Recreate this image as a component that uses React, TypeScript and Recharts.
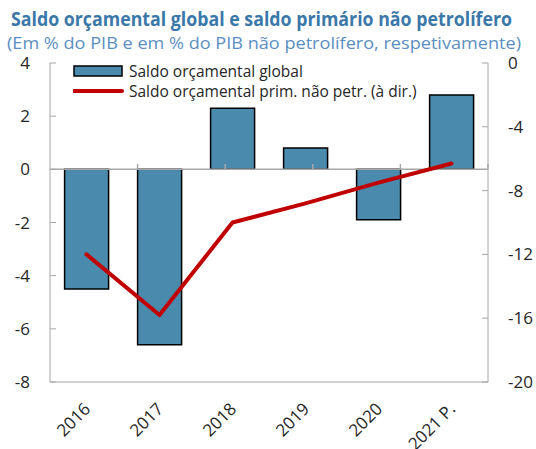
import React from 'react'
import { ComposedChart, Bar, Line, XAxis, YAxis, ReferenceLine, ReferenceArea, Legend } from 'recharts'

const years = ['2016', '2017', '2018', '2019', '2020', '2021 P.']
const saldoGlobal = [-4.5, -6.6, 2.3, 0.8, -1.9, 2.8]
const saldoPrimario = [-12.0, -15.8, -10.0, -8.8, -7.5, -6.3]
const leftTicks = [-8, -6, -4, -2, 0, 2, 4]
const rightTicks = [-20, -16, -12, -8, -4, 0]

const data = years.map((year, i) => ({ year, global: saldoGlobal[i], primario: saldoPrimario[i] }))
const boundaries = years.slice(1).map((_, i) => i + 1)

const FONT = '"Open Sans", "Noto Sans", sans-serif'
const GREY = '#a6a6a6'
const BAR = '#4a8aad'
const RED = '#c00000'

function YearTick(props: any) {
  const { x, y, payload } = props
  return (
    <g transform={`translate(${x + 5},${y})`}>
      <text textAnchor='end' transform='rotate(-45)' fontSize={17} fill='#262626' fontFamily={FONT}>
        {payload.value}
      </text>
    </g>
  )
}

function renderLegend() {
  const row: React.CSSProperties = { display: 'flex', alignItems: 'center', height: 20, whiteSpace: 'nowrap' }
  return (
    <div style={{ fontFamily: FONT, fontSize: 15.5, color: '#262626', textAlign: 'left' }}>
      <div style={row}>
        <svg width={52} height={12} style={{ marginRight: 4 }}>
          <rect x={1} y={1} width={48} height={10} fill={BAR} stroke='#000' strokeWidth={1.5} />
        </svg>
        Saldo orçamental global
      </div>
      <div style={row}>
        <svg width={52} height={12} style={{ marginRight: 4 }}>
          <line x1={1} y1={6} x2={49} y2={6} stroke={RED} strokeWidth={4} strokeLinecap='round' />
        </svg>
        Saldo orçamental prim. não petr. (à dir.)
      </div>
    </div>
  )
}

export default function App() {
  return (
    <div style={{ position: 'absolute', left: 0, top: 0, width: 536, height: 449, background: '#fff' }}>
      <ComposedChart width={536} height={449} data={data} margin={{ top: 63, right: 0, bottom: 0, left: 0 }} barCategoryGap='20%'>
        <XAxis dataKey='year' height={67} axisLine={{ stroke: GREY }} tickLine={false} tick={<YearTick />} tickMargin={22} interval={0} />
        <XAxis xAxisId='num' type='number' domain={[0, 6]} hide />
        <YAxis yAxisId='left' width={50} domain={[-8, 4]} ticks={leftTicks} interval={0}
          axisLine={{ stroke: GREY }} tickLine={{ stroke: GREY }} tickSize={-6} tickMargin={26}
          tick={{ fontSize: 17, fill: '#262626', fontFamily: FONT }} />
        <YAxis yAxisId='right' orientation='right' width={48} domain={[-20, 0]} ticks={rightTicks} interval={0}
          axisLine={{ stroke: GREY }} tickLine={{ stroke: GREY }} tickSize={-6} tickMargin={26}
          tick={{ fontSize: 17, fill: '#262626', fontFamily: FONT }} />
        <ReferenceArea xAxisId='num' yAxisId='left' x1={0} x2={6} y1={-8} y2={4} fill='none' stroke={GREY} strokeWidth={1.5} />
        <Bar yAxisId='left' dataKey='global' fill={BAR} stroke='#000' strokeWidth={1.5} isAnimationActive={false} />
        <ReferenceLine yAxisId='left' y={0} stroke={GREY} strokeWidth={1.5} />
        {boundaries.map(b => (
          <ReferenceLine key={b} xAxisId='num' yAxisId='left' segment={[{ x: b, y: 0 }, { x: b, y: 0.2 }]} stroke={GREY} strokeWidth={1.5} />
        ))}
        <Line yAxisId='right' dataKey='primario' stroke={RED} strokeWidth={4} dot={false} strokeLinecap='round' strokeLinejoin='round' isAnimationActive={false} />
        <Legend layout='vertical' align='center' verticalAlign='middle' content={renderLegend}
          wrapperStyle={{ position: 'absolute', left: 73, top: 61, width: 'auto' }} />
      </ComposedChart>
      <svg width={536} height={60} style={{ position: 'absolute', left: 0, top: 0 }}>
        <text x={11} y={26} fontSize={19} fontWeight='bold' fill='#3b78aa' fontFamily={FONT} textLength={501} lengthAdjust='spacingAndGlyphs'>
          Saldo orçamental global e saldo primário não petrolífero
        </text>
        <text x={7} y={49} fontSize={16.5} fill='#5b8ec2' fontFamily={FONT} textLength={514} lengthAdjust='spacingAndGlyphs'>
          (Em % do PIB e em % do PIB não petrolífero, respetivamente)
        </text>
      </svg>
    </div>
  )
}
